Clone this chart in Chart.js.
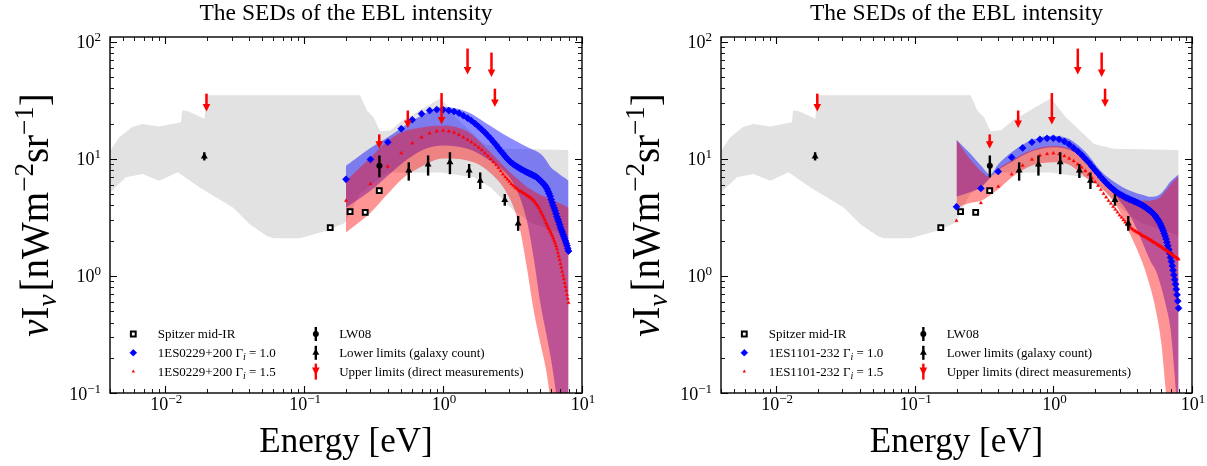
<!DOCTYPE html>
<html>
<head>
<meta charset="utf-8">
<title>The SEDs of the EBL intensity</title>
<script src="https://cdn.jsdelivr.net/npm/chart.js@4.4.1/dist/chart.umd.min.js"></script>
<style>
  html, body { margin:0; padding:0; background:#ffffff; }
  #fig { position:relative; width:1207px; height:466px; overflow:hidden; background:#fff; }
  #fig canvas { position:absolute; top:0; }
</style>
</head>
<body>
<div id="fig">
  <canvas id="left" width="600" height="466" style="left:0px"></canvas>
  <canvas id="right" width="596" height="466" style="left:611px"></canvas>
</div>
<script>
// ---------------- data ----------------
const TITLE = 'The SEDs of the EBL intensity';
const X_TITLE = 'Energy [eV]';
const X_MAJOR = [0.01, 0.1, 1, 10];
const X_MAJOR_EXP = ['\u22122', '\u22121', '0', '1'];
const Y_MAJOR = [0.1, 1, 10, 100];
const Y_MAJOR_EXP = ['\u22121', '0', '1', '2'];
const X_MINOR = [0.004,0.005,0.006,0.007,0.008,0.009,0.02,0.03,0.04,0.05,0.06,0.07,0.08,0.09,0.2,0.3,0.4,0.5,0.6,0.7,0.8,0.9,2,3,4,5,6,7,8,9];
const Y_MINOR = [0.2,0.3,0.4,0.5,0.6,0.7,0.8,0.9,2,3,4,5,6,7,8,9,20,30,40,50,60,70,80,90];

const SOURCES = ['1ES0229+200', '1ES1101-232'];
const GAMMAS = ['1.0', '1.5'];
const LEGEND_COL1 = 'Spitzer mid-IR';
const LEGEND_COL2 = ['LW08', 'Lower limits (galaxy count)', 'Upper limits (direct measurements)'];

// energy grid of the model points (eV)
const ENERGY = [0.2,0.3,0.4,0.5,0.6,0.7,0.8,0.9,
  1.0,1.1,1.2,1.3,1.4,1.5,1.6,1.7,1.8,1.9,
  2.0,2.1,2.2,2.3,2.4,2.5,2.6,2.7,2.8,2.9,
  3.0,3.1,3.2,3.3,3.4,3.5,3.6,3.7,3.8,3.9,
  4.0,4.1,4.2,4.3,4.4,4.5,4.6,4.7,4.8,4.9,
  5.0,5.1,5.2,5.3,5.4,5.5,5.6,5.7,5.8,5.9,
  6.0,6.1,6.2,6.3,6.4,6.5,6.6,6.7,6.8,6.9,
  7.0,7.1,7.2,7.3,7.4,7.5,7.6,7.7,7.8,7.9,8.0];

// 1ES0229+200
const A_G10 = [6.7,9.9,13.9,18.1,21.6,24.3,25.9,26.4,
  26.3,25.9,25.4,24.6,23.4,22.3,21.2,20.0,18.9,17.8,
  16.8,15.8,14.9,14.0,13.2,12.4,11.7,11.1,10.5,10.0,
  9.6,9.3,9.0,8.8,8.6,8.4,8.25,8.1,7.95,7.8,
  7.7,7.6,7.5,7.4,7.3,7.2,7.1,7.0,6.85,6.7,
  6.55,6.4,6.25,6.1,5.95,5.75,5.55,5.3,5.05,4.8,
  4.5,4.25,4.0,3.8,3.6,3.4,3.2,3.05,2.9,2.75,
  2.6,2.48,2.37,2.27,2.17,2.08,1.99,1.9,1.81,1.72,1.63];
const A_G15 = [4.4,6.1,8.6,11.2,13.6,15.3,16.6,17.2,
  17.5,17.2,16.8,16.1,15.3,14.6,13.9,13.2,12.5,11.9,
  11.2,10.6,10.0,9.4,8.9,8.4,7.9,7.4,7.0,6.7,
  6.4,6.1,5.9,5.7,5.55,5.4,5.3,5.2,5.1,5.0,
  4.9,4.8,4.7,4.6,4.5,4.4,4.25,4.1,3.95,3.8,
  3.6,3.45,3.3,3.15,3.0,2.85,2.72,2.6,2.5,2.4,
  2.3,2.2,2.1,2.0,1.9,1.8,1.7,1.58,1.47,1.37,
  1.27,1.18,1.09,1.01,0.94,0.87,0.81,0.75,0.69,0.64,0.59];
const A_BAND_E = [0.2,0.3,0.4,0.5,0.7,1.0,1.5,2.0,3.0,3.5,4.0,4.5,5.0,5.5,6.0,6.5,7.0,7.5,8.0];
const A_G10_UP = [8.76,12.4,15.3,18.4,23.5,27.7,25.1,20.5,15.2,13.8,12.7,11.9,11.1,9.8,8.4,7.8,7.3,6.9,6.5];
const A_G10_LO = [3.85,5.35,7.19,9.06,11.8,13.0,12.2,10.3,6.96,5.0,3.0,1.4,0.6,0.33,0.19,0.1,0.05,0.03,0.02];
const A_G15_UP = [6.52,10.3,14.3,16.8,18.5,19.3,17.1,12.7,7.78,6.6,5.79,5.3,4.94,4.7,4.48,4.3,4.14,4.0,3.83];
const A_G15_LO = [2.35,3.47,5.04,6.65,8.59,10.06,9.67,8.26,4.66,2.8,1.2,0.5,0.27,0.16,0.08,0.05,0.03,0.02,0.01];

// 1ES1101-232
const B_G10 = [3.9,5.6,7.8,10.3,12.4,13.9,14.7,15.0,
  15.0,14.7,14.1,13.3,12.4,11.6,10.8,10.0,9.3,8.6,
  8.0,7.5,7.0,6.6,6.25,5.95,5.7,5.5,5.3,5.15,
  5.0,4.9,4.8,4.7,4.62,4.55,4.48,4.42,4.36,4.3,
  4.25,4.19,4.13,4.07,4.0,3.94,3.87,3.8,3.73,3.66,
  3.6,3.53,3.45,3.37,3.28,3.19,3.09,2.99,2.89,2.78,
  2.67,2.55,2.43,2.31,2.19,2.07,1.94,1.81,1.68,1.56,
  1.44,1.33,1.22,1.12,1.02,0.93,0.85,0.77,0.69,0.61,0.53];
const B_G15 = [2.96,4.2,5.8,7.4,8.8,9.9,10.7,11.0,
  11.2,11.0,10.6,10.1,9.6,9.0,8.45,7.9,7.35,6.85,
  6.35,5.9,5.45,5.05,4.7,4.4,4.15,3.9,3.7,3.5,
  3.3,3.15,3.0,2.87,2.76,2.67,2.59,2.52,2.46,2.41,
  2.37,2.33,2.29,2.25,2.21,2.18,2.15,2.12,2.09,2.06,
  2.03,2.0,1.97,1.94,1.92,1.89,1.87,1.84,1.82,1.79,
  1.77,1.75,1.72,1.70,1.68,1.66,1.64,1.62,1.60,1.58,
  1.56,1.54,1.52,1.50,1.48,1.46,1.45,1.43,1.42,1.40,1.39];
const B_BAND_E = [0.2,0.25,0.3,0.35,0.4,0.5,0.7,1.0,1.3,1.7,2.2,2.9,3.5,4.0,4.5,5.0,5.5,6.0,6.5,7.0,7.5,8.0];
const B_G10_UP = [14.6,11.2,8.8,7.4,9.0,11.4,14.5,15.8,14.8,11.5,7.9,6.1,5.4,5.1,4.9,4.75,4.8,5.1,5.7,6.4,6.9,7.4];
const B_G10_LO = [4.77,5.2,5.7,6.9,8.0,9.4,11.6,12.6,12.0,9.8,6.7,4.6,3.4,2.5,1.8,1.35,1.1,0.8,0.55,0.35,0.14,0.05];
const B_G15_UP = [14.6,10.0,7.9,7.0,8.2,9.7,11.9,12.9,12.3,10.1,7.0,5.0,4.5,4.4,4.4,4.4,4.5,4.8,5.4,6.0,6.6,7.1];
const B_G15_LO = [3.85,4.2,4.4,4.9,5.5,6.95,8.77,9.35,8.9,7.0,5.7,3.85,2.4,1.7,1.2,0.8,0.5,0.27,0.1,0.05,0.03,0.02];

// allowed EBL region (grey)
const GREY_UP_E = [0.0039,0.00466,0.00578,0.00683,0.00906,0.0107,0.0130,0.01324,0.01445,0.0192,0.0197,0.253,0.283,0.316,0.352,0.42,0.5,0.7,0.96,1.23,1.97,2.73,8.0];
const GREY_UP_V = [11.2,15.3,18.7,19.9,18.9,19.7,20.6,25.9,25.6,22.0,34.9,34.9,25.9,22.7,17.2,17.6,21.0,26.5,33.0,22.7,13.4,12.2,11.9];
const GREY_LO_E = [0.0039,0.00521,0.00687,0.00906,0.0123,0.0177,0.0233,0.0307,0.0405,0.0535,0.0598,0.0932,0.1455,0.197,0.25,0.395,0.96,1.66,2.2,3.23,4.3,8.0];
const GREY_LO_V = [5.01,6.96,7.44,6.52,7.68,5.71,4.69,3.85,2.77,2.2,2.1,2.1,2.43,2.85,5.0,7.66,7.66,6.96,5.7,3.6,2.85,2.2];

// measurements
const SPITZER_E = [0.154,0.214,0.275,0.347];
const SPITZER_V = [2.59,3.54,3.49,5.35];
const LW08_E = [0.348];
const LW08_V = [8.76];
const LW08_LO = [6.96];
const LW08_HI = [10.7];
const LOWER_E = [0.0191,0.566,0.78,1.12,1.54,1.85,2.78,3.47];
const LOWER_V = [10.5,7.94,8.94,9.35,7.94,6.52,4.45,2.81];
const LOWER_LO = [9.7,6.52,7.2,7.4,6.87,5.53,3.98,2.43];
const LOWER_HI = [11.4,9.35,10.7,11.4,9.04,7.66,5.01,3.26];
const UPPER_E = [0.0198,0.347,0.557,0.975,1.50,2.23,2.36];
const UPPER_V = [36.1,16.2,25.9,36.5,87.6,81.0,39.8];
const UPPER_TIP = [25.4,12.2,18.4,19.7,52.5,50.0,27.7];

// ---------------- drawing helpers ----------------
const FONT = "'Liberation Serif','Times New Roman',Times,serif";
function fnt(size, italic) { return (italic ? 'italic ' : '') + size + 'px ' + FONT; }
function pts(xs, ys) { return xs.map((x, i) => ({x: x, y: ys[i]})); }

function drawRuns(ctx, runs, x, y, align) {
  let total = 0;
  runs.forEach(r => { ctx.font = fnt(r.s, r.i); r.w = ctx.measureText(r.t).width + (r.gap || 0); total += r.w; });
  let cx = align === 'center' ? x - total / 2 : (align === 'right' ? x - total : x);
  ctx.textAlign = 'left';
  ctx.textBaseline = 'alphabetic';
  runs.forEach(r => { ctx.font = fnt(r.s, r.i); ctx.fillText(r.t, cx, y + (r.dy || 0)); cx += r.w; });
  return total;
}
function textWidth(ctx, runs) {
  let t = 0;
  runs.forEach(r => { ctx.font = fnt(r.s, r.i); t += ctx.measureText(r.t).width; });
  return t;
}
function arrowDown(ctx, px, y1, y2) {
  ctx.lineWidth = 2.5;
  ctx.beginPath(); ctx.moveTo(px, y1); ctx.lineTo(px, y2 - 5); ctx.stroke();
  ctx.beginPath(); ctx.moveTo(px - 3.8, y2 - 7.5); ctx.lineTo(px + 3.8, y2 - 7.5); ctx.lineTo(px, y2); ctx.closePath(); ctx.fill();
}

const decoPlugin = {
  id: 'deco',
  afterDatasetsDraw(chart, args, o) {
    const {ctx, chartArea: a} = chart;
    const xs = chart.scales.x, ys = chart.scales.y;
    ctx.save();
    ctx.beginPath(); ctx.rect(a.left, a.top, a.right - a.left, a.bottom - a.top); ctx.clip();
    ctx.strokeStyle = '#000'; ctx.lineWidth = 2.4; ctx.lineCap = 'butt';
    LW08_E.forEach((e, i) => {
      const px = xs.getPixelForValue(e);
      ctx.beginPath(); ctx.moveTo(px, ys.getPixelForValue(LW08_LO[i])); ctx.lineTo(px, ys.getPixelForValue(LW08_HI[i])); ctx.stroke();
    });
    LOWER_E.forEach((e, i) => {
      const px = xs.getPixelForValue(e);
      ctx.beginPath(); ctx.moveTo(px, ys.getPixelForValue(LOWER_LO[i])); ctx.lineTo(px, ys.getPixelForValue(LOWER_HI[i])); ctx.stroke();
    });
    ctx.strokeStyle = '#ff0000'; ctx.fillStyle = '#ff0000';
    UPPER_E.forEach((e, i) => {
      arrowDown(ctx, xs.getPixelForValue(e), ys.getPixelForValue(UPPER_V[i]), ys.getPixelForValue(UPPER_TIP[i]));
    });
    ctx.restore();
  },
  afterDraw(chart, args, o) {
    const {ctx, chartArea: a} = chart;
    const xs = chart.scales.x, ys = chart.scales.y;
    ctx.save();
    // frame
    ctx.strokeStyle = '#000'; ctx.lineWidth = 1.4;
    ctx.strokeRect(a.left, a.top, a.right - a.left, a.bottom - a.top);
    // ticks (inward, all four sides)
    const tick = (vals, len, lw) => {
      ctx.lineWidth = lw;
      vals.forEach(v => {
        const px = Math.round(xs.getPixelForValue(v)) + 0.5;
        if (px < a.left - 0.5 || px > a.right + 0.5) return;
        ctx.beginPath();
        ctx.moveTo(px, a.bottom); ctx.lineTo(px, a.bottom - len);
        ctx.moveTo(px, a.top); ctx.lineTo(px, a.top + len);
        ctx.stroke();
      });
    };
    const ticky = (vals, len, lw) => {
      ctx.lineWidth = lw;
      vals.forEach(v => {
        const py = Math.round(ys.getPixelForValue(v)) + 0.5;
        if (py < a.top - 0.5 || py > a.bottom + 0.5) return;
        ctx.beginPath();
        ctx.moveTo(a.left, py); ctx.lineTo(a.left + len, py);
        ctx.moveTo(a.right, py); ctx.lineTo(a.right - len, py);
        ctx.stroke();
      });
    };
    tick(X_MAJOR, 7, 1.1); tick(X_MINOR, 4, 0.9);
    ticky(Y_MAJOR, 7, 1.1); ticky(Y_MINOR, 4, 0.9);
    // tick labels
    ctx.fillStyle = '#000';
    X_MAJOR.forEach((v, i) => {
      const px = xs.getPixelForValue(v);
      drawRuns(ctx, [{t: '10', s: 18}, {t: X_MAJOR_EXP[i], s: 13, dy: -6.5}], px + 1, a.bottom + 16.5, 'center');
    });
    Y_MAJOR.forEach((v, i) => {
      const py = ys.getPixelForValue(v);
      drawRuns(ctx, [{t: '10', s: 18}, {t: Y_MAJOR_EXP[i], s: 13, dy: -7}], a.left - 9, py + 6.5, 'right');
    });
    // titles
    const cx = (a.left + a.right) / 2;
    ctx.font = fnt(23.5); ctx.textAlign = 'center'; ctx.textBaseline = 'alphabetic';
    ctx.fillText(TITLE, cx, 20);
    ctx.font = fnt(35);
    ctx.fillText(X_TITLE, cx, 452);
    ctx.save();
    ctx.translate(48, (a.top + a.bottom) / 2);
    ctx.rotate(-Math.PI / 2);
    drawRuns(ctx, [
      {t: '\u03bd', s: 39, i: true}, {t: 'I', s: 39}, {t: '\u03bd', s: 27, i: true, dy: 8, gap: 3},
      {t: '[nWm', s: 39}, {t: '\u22122', s: 27, dy: -15}, {t: 'sr', s: 39}, {t: '\u22121', s: 27, dy: -15}, {t: ']', s: 39}
    ], 0, 0, 'center');
    ctx.restore();
    // legend
    const src = o.source;
    const LS = 13;
    const rows = [a.top + 297, a.top + 315.8, a.top + 334.6];
    const m1 = a.left + 23.3, t1 = a.left + 47.7;
    const col1 = [
      [{t: LEGEND_COL1, s: LS}],
      [{t: src + ' \u0393', s: LS}, {t: 'i', s: 10, i: true, dy: 3}, {t: ' = ' + GAMMAS[0], s: LS}],
      [{t: src + ' \u0393', s: LS}, {t: 'i', s: 10, i: true, dy: 3}, {t: ' = ' + GAMMAS[1], s: LS}]
    ];
    let maxW = 0;
    col1.forEach(r => { maxW = Math.max(maxW, textWidth(ctx, r)); });
    col1.forEach((r, k) => drawRuns(ctx, r, t1, rows[k] + 4, 'left'));
    const m2 = t1 + maxW + 40, t2 = m2 + 23.3;
    LEGEND_COL2.forEach((s, k) => drawRuns(ctx, [{t: s, s: LS}], t2, rows[k] + 4, 'left'));
    const H = Chart.helpers;
    ctx.fillStyle = '#fff'; ctx.strokeStyle = '#000'; ctx.lineWidth = 2;
    ctx.beginPath(); ctx.rect(m1 - 2.4, rows[0] - 2.4, 4.8, 4.8); ctx.fill(); ctx.stroke();
    ctx.fillStyle = '#0000ff'; ctx.strokeStyle = '#0000ff'; ctx.lineWidth = 0.8;
    H.drawPoint(ctx, {pointStyle: 'rectRot', radius: 3.3, borderWidth: 0.8}, m1, rows[1]);
    ctx.fillStyle = '#ff0000'; ctx.strokeStyle = '#ff0000';
    H.drawPoint(ctx, {pointStyle: 'triangle', radius: 2, borderWidth: 0}, m1, rows[2]);
    ctx.fillStyle = '#000'; ctx.strokeStyle = '#000'; ctx.lineWidth = 2.4;
    ctx.beginPath(); ctx.moveTo(m2, rows[0] - 7); ctx.lineTo(m2, rows[0] + 7); ctx.stroke();
    ctx.beginPath(); ctx.arc(m2, rows[0], 3, 0, Math.PI * 2); ctx.fill();
    ctx.beginPath(); ctx.moveTo(m2, rows[1] - 7); ctx.lineTo(m2, rows[1] + 7); ctx.stroke();
    H.drawPoint(ctx, {pointStyle: 'triangle', radius: 4, borderWidth: 0}, m2, rows[1]);
    ctx.fillStyle = '#ff0000'; ctx.strokeStyle = '#ff0000';
    ctx.beginPath(); ctx.moveTo(m2, rows[2] - 8); ctx.lineTo(m2, rows[2] + 8); ctx.stroke();
    ctx.beginPath(); ctx.moveTo(m2 - 3.8, rows[2] - 4); ctx.lineTo(m2 + 3.8, rows[2] - 4); ctx.lineTo(m2, rows[2] + 4); ctx.closePath(); ctx.fill();
    ctx.restore();
  }
};

function bandPair(xs, lo, up, color, order) {
  const common = {showLine: true, pointRadius: 0, borderWidth: 1, borderColor: 'rgba(0,0,0,0)',
                  cubicInterpolationMode: 'monotone', order: order};
  return [
    Object.assign({label: 'lo', data: pts(xs, lo), fill: false}, common),
    Object.assign({label: 'up', data: pts(xs, up), fill: '-1', backgroundColor: color}, common)
  ];
}

function makePanel(id, source, g10, g15, bandE, g10up, g10lo, g15up, g15lo, padRight) {
  const datasets = [
    {label: 'grey lo', data: pts(GREY_LO_E, GREY_LO_V), showLine: true, pointRadius: 0, borderWidth: 1,
     borderColor: 'rgba(0,0,0,0)', fill: false, tension: 0, order: 10},
    {label: 'grey up', data: pts(GREY_UP_E, GREY_UP_V), showLine: true, pointRadius: 0, borderWidth: 1,
     borderColor: 'rgba(0,0,0,0)', fill: '-1', backgroundColor: '#e2e2e2', tension: 0, order: 10}
  ].concat(bandPair(bandE, g10lo, g10up, 'rgba(0,0,255,0.45)', 8))
   .concat(bandPair(bandE, g15lo, g15up, 'rgba(255,0,0,0.42)', 7))
   .concat([
    {label: LEGEND_COL1, data: pts(SPITZER_E, SPITZER_V), showLine: false, pointStyle: 'rect', pointRadius: 3.4,
     borderWidth: 2, borderColor: '#000', backgroundColor: '#fff', order: 3},
    {label: source + ' \u0393i = ' + GAMMAS[0], data: pts(ENERGY, g10), showLine: false, pointStyle: 'rectRot', pointRadius: 3.4,
     borderWidth: 0.8, borderColor: '#0000ff', backgroundColor: '#0000ff', order: 2},
    {label: source + ' \u0393i = ' + GAMMAS[1], data: pts(ENERGY, g15), showLine: false, pointStyle: 'triangle', pointRadius: 2,
     borderWidth: 0.3, borderColor: '#ff0000', backgroundColor: '#ff0000', order: 1},
    {label: LEGEND_COL2[0], data: pts(LW08_E, LW08_V), showLine: false, pointStyle: 'circle', pointRadius: 3,
     borderWidth: 0, backgroundColor: '#000', order: 0},
    {label: LEGEND_COL2[1], data: pts(LOWER_E, LOWER_V), showLine: false, pointStyle: 'triangle', pointRadius: 4,
     borderWidth: 0, backgroundColor: '#000', order: 0}
  ]);
  return new Chart(document.getElementById(id), {
    type: 'line',
    data: {datasets: datasets},
    options: {
      responsive: false, animation: false, events: [],
      layout: {padding: {left: 110, top: 37, right: padRight, bottom: 73}},
      scales: {
        x: {type: 'logarithmic', min: 0.004, max: 10, display: false},
        y: {type: 'logarithmic', min: 0.1, max: 110, display: false}
      },
      plugins: {legend: {display: false}, tooltip: {enabled: false}, title: {display: false},
                deco: {source: source}}
    },
    plugins: [decoPlugin]
  });
}

makePanel('left', SOURCES[0], A_G10, A_G15, A_BAND_E, A_G10_UP, A_G10_LO, A_G15_UP, A_G15_LO, 18);
makePanel('right', SOURCES[1], B_G10, B_G15, B_BAND_E, B_G10_UP, B_G10_LO, B_G15_UP, B_G15_LO, 15);
</script>
</body>
</html>
